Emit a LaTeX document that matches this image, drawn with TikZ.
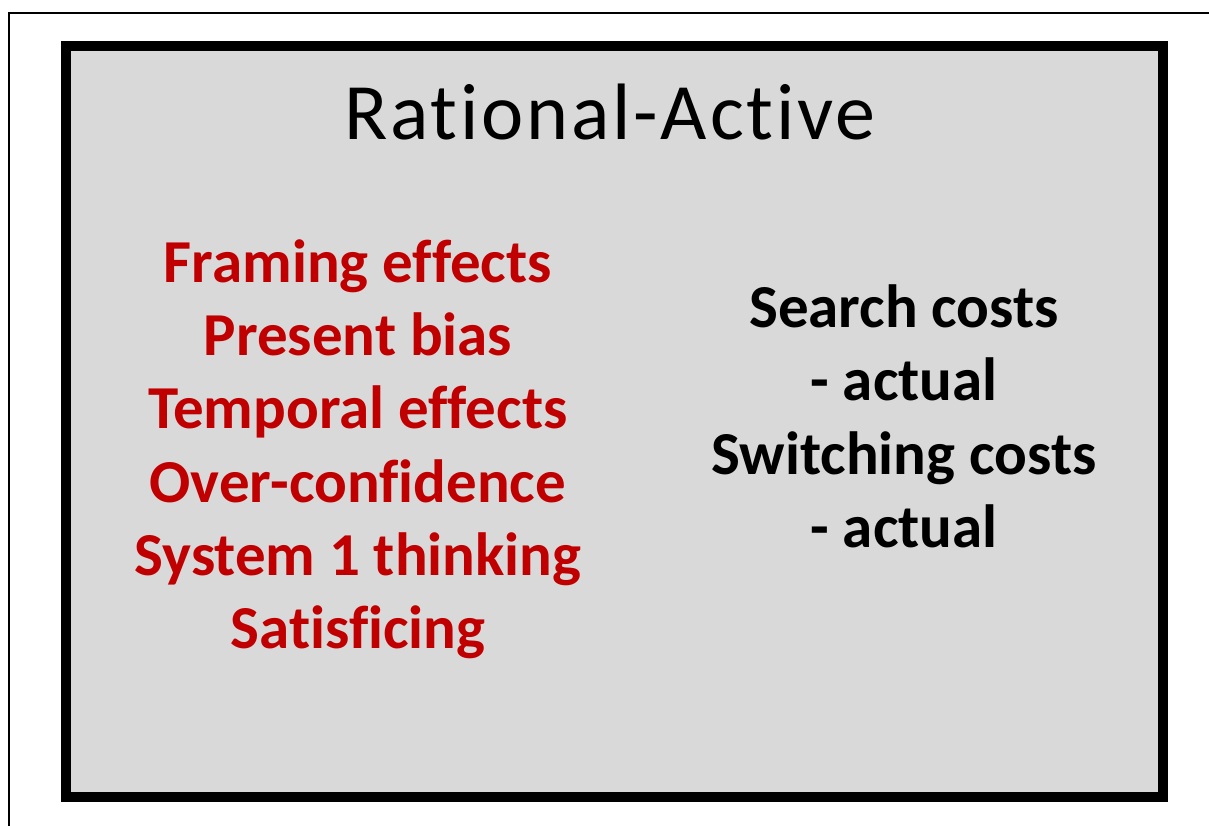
\documentclass[tikz,border=0pt]{standalone}
\usepackage{fontspec}
\setmainfont{Carlito}[Ligatures={NoCommon,NoRequired,NoContextual}]
\newfontfamily\titlefont{Carlito}[LetterSpace=3.5,Ligatures={NoCommon,NoRequired,NoContextual}]
\definecolor{boxgray}{HTML}{D9D9D9}
\definecolor{darkred}{HTML}{C00000}
\tikzset{
  redtxt/.style={inner sep=0pt, anchor=base, text=darkred, font=\fontsize{61}{61}\selectfont\bfseries},
  blktxt/.style={inner sep=0pt, anchor=base, text=black, font=\fontsize{61}{61}\selectfont\bfseries},
  titletxt/.style={inner sep=0pt, anchor=base, text=black, font=\titlefont\fontsize{80}{80}\selectfont},
}
\begin{document}
\begin{tikzpicture}[x=1pt,y=-1pt]
\useasboundingbox (0,0) rectangle (1209,826);
\fill[white] (0,0) rectangle (1209,826);
\coordinate (fbl) at (8.5,826);
\coordinate (ftl) at (8.5,13.5);
\coordinate (ftr) at (1209,13.5);
\draw[line width=2pt, line cap=butt] (fbl) -- (ftl) -- (ftr);
\node[draw=black, fill=boxgray, line width=10pt, outer sep=0pt, minimum width=1096.5pt, minimum height=751pt, inner sep=0pt, anchor=north west] (box) at (66,46) {};
\node[titletxt] (title) at (610,140) {Rational-Active};
\node[redtxt] (l1) at (358,282) {Framing effects};
\node[redtxt] (l2) at (358,355) {Present bias};
\node[redtxt] (l3) at (358,428) {Temporal effects};
\node[redtxt] (l4) at (358,502) {Over-confidence};
\node[redtxt] (l5) at (358,575) {System 1 thinking};
\node[redtxt] (l6) at (358,648) {Satisficing};
\node[blktxt] (r1) at (904,327) {Search costs};
\node[blktxt] (r2) at (904,400) {- actual};
\node[blktxt] (r3) at (904,474) {Switching costs};
\node[blktxt] (r4) at (904,547) {- actual};
\end{tikzpicture}
\end{document}
